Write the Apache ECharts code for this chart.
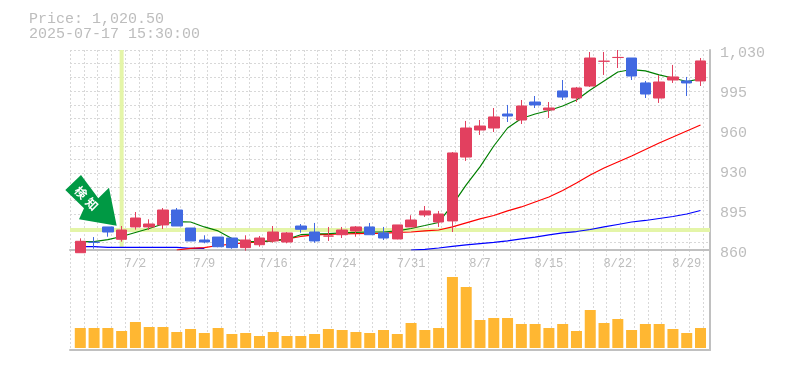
<!DOCTYPE html>
<html>
<head>
<meta charset="utf-8">
<style>html,body{margin:0;padding:0;background:#fff}#c{width:785px;height:370px}</style>
<script src="https://cdn.jsdelivr.net/npm/echarts@6/dist/echarts.min.js"></script>
</head>
<body>
<div id="c"></div>
<script>
const dates = ['6/26','6/27','6/30','7/1','7/2','7/3','7/4','7/7','7/8','7/9','7/10','7/11','7/14','7/15','7/16','7/17','7/18','7/22','7/23','7/24','7/25','7/28','7/29','7/30','7/31','8/1','8/4','8/5','8/6','8/7','8/8','8/12','8/13','8/14','8/15','8/18','8/19','8/20','8/21','8/22','8/25','8/26','8/27','8/28','8/29','9/1'];
// open, close, low, high
const ohlc = [
[857.7,867.4,857.7,869.9],[866.6,866.5,861.1,871],[879.6,875.3,871.3,879.6],[869.1,877,867.1,880.4],[879.6,887.2,877.3,892.3],
[879.6,882.1,877,886.1],[881.3,894,877.9,895.7],[894,880.4,880.4,895.7],[878.7,867.7,867.7,878.7],[868.5,866.8,865.7,872.5],
[871,862.8,862.3,871],[870.2,862,861.1,870.2],[862,868.5,859.4,872.5],[864.5,870.2,862.8,871.9],[867.7,875.3,866.2,880.4],
[866.8,874.5,865.7,875.3],[880.4,877.6,874.7,882.1],[875.3,867.7,866.2,883],[871.8,871.9,867.7,879.6],[873,877,870.2,879.6],
[876.2,879.6,871.3,880.4],[879.6,873,873,883],[874.5,870.2,868.5,879.6],[869.4,881.3,869.1,881.3],[879.6,885.5,879.6,889.5],
[889.8,893.2,888.1,897.4],[883.8,890.6,879.6,893.2],[884.7,942.5,875.3,943.3],[939,963.7,935.7,969.7],[962,965.4,957.8,970.5],
[963.7,973.1,960.3,980.7],[975.6,973.9,968.8,983.3],[970.5,982.4,967.1,987.5],[985.8,983.3,980.7,990.9],[979,980.7,972.2,985.8],
[995.2,990,987.5,1004.5],[989.2,997.7,985.8,998.6],[999.4,1023.2,998.6,1028.3],[1020.4,1020.5,1008.8,1028.3],[1023.6,1023.7,1014.7,1030],
[1023.2,1007.9,1004.5,1023.2],[1002,992.6,989.2,1003.7],[989.2,1002.8,985,1008.8],[1004.5,1007.1,1002,1017.3],[1003.7,1002,990.9,1007.1],
[1003.7,1020.7,999.4,1023.2]];
const maShort = [867.1,867.1,868.8,871.5,874.9,878.3,882.1,884.1,883.8,879.6,876.2,869.8,867.1,867.1,867.9,869.1,873,873.6,874,874.5,874.9,875.3,875.3,876.2,878.3,880.8,883.4,898.3,915.3,930.6,948.4,963.7,971.8,975.6,978.6,982.4,987.5,996,1003.7,1011.3,1013.4,1012.2,1008.8,1006.2,1003.2,1005.4];
const maMid = [null,null,null,null,null,null,null,860,861.3,862,863.8,865.1,866,866.8,867.7,869.4,871.5,872.8,873.2,873.6,874,874.2,874.2,874.9,875.3,876.2,877,879.6,883,886.4,889.3,893.2,896.6,900.8,905,910.6,917,923.8,929.7,934.8,939.9,945.4,951,956,961.2,966.3];
const maLong = [862.8,862.8,862.3,862.3,862.3,862.3,862.3,862.3,861.4,861.4,null,null,null,null,null,null,null,null,null,null,null,null,null,null,860,860.6,861.7,863,864.3,865.5,866.5,867.7,869.4,871,872.8,874.5,875.7,877.4,879.6,881.7,883.8,885.1,886.8,888.5,890.6,893.6];
const volumes = [20,20,20,17,26,21,21,16,19,15,20,14,15,12,16,12,12,14,19,18,16,15,18,14,25,18,20,71,61,28,30,30,24,24,20,24,17,38,25,29,18,24,24,19,15,20];
const priceTicks = {860:'860',894:'895',928:'930',962:'960',996:'995',1030:'1,030'};
const priceMin = 860, priceMax = 1030, priceStep = 34;
const highlightDate = '7/1', highlightPrice = 877;
const titleLines = ['Price: 1,020.50','2025-07-17 15:30:00'];
const markChars = ['検','知'];

const up = '#e2405f', down = '#4169e1', grey = '#c0c0c0', dot = '#d8d8d8', pale = '#e4f5a8';
const mono = '"Liberation Mono", monospace';
const dashed = {show:true, lineStyle:{color:dot, width:1, type:[2,2]}};
const off = {show:false};

const chart = echarts.init(document.getElementById('c'), null, {renderer:'canvas'});
chart.setOption({
  animation:false,
  backgroundColor:'#ffffff',
  title:{left:24, top:7, text:titleLines.join('\n'),
    textStyle:{fontFamily:mono, fontSize:15, lineHeight:15, fontWeight:'normal', color:'#bdbdbd'}},
  grid:[
    {left:70, top:50, width:640, height:300},
    {left:70, top:50, width:640, height:200},
    {left:73.4, top:50, width:634, height:200},
    {left:73.4, top:250, width:634, height:100}
  ],
  xAxis:[
    {type:'value', gridIndex:0, min:0, max:640, interval:13.76, splitLine:dashed,
      axisLine:{show:true, onZero:false, lineStyle:{color:grey, width:2}}, axisTick:off, axisLabel:off},
    {type:'value', gridIndex:1, min:0, max:640, splitLine:off,
      axisLine:{show:true, onZero:false, lineStyle:{color:grey, width:2}}, axisTick:off, axisLabel:off},
    {type:'category', gridIndex:2, data:dates, axisLine:off, axisTick:off, splitLine:off,
      axisLabel:{show:true, margin:8, color:'#bdbdbd', fontFamily:mono, fontSize:12, interval:(i)=>i%5===4, hideOverlap:false}},
    {type:'category', gridIndex:3, data:dates, axisLine:off, axisTick:off, axisLabel:off, splitLine:off}
  ],
  yAxis:[
    {type:'value', gridIndex:0, min:0, max:300, position:'right', splitLine:off, axisTick:off, axisLabel:off,
      axisLine:{show:true, onZero:false, lineStyle:{color:grey, width:2}}},
    {type:'value', gridIndex:1, min:0, max:200, inverse:true, interval:13.7, splitLine:dashed, axisLine:off, axisTick:off, axisLabel:off},
    {type:'value', gridIndex:1, min:priceMin, max:priceMax, interval:priceStep, position:'right', splitLine:off, axisLine:off, axisTick:off,
      axisLabel:{show:true, margin:10, color:'#bdbdbd', fontFamily:mono, fontSize:15, verticalAlign:'top', lineHeight:6, align:'left',
        formatter:(v)=>priceTicks[Math.round(v)]||''}},
    {type:'value', gridIndex:2, min:priceMin, max:priceMax, interval:priceStep, splitLine:off, axisLine:off, axisTick:off, axisLabel:off},
    {type:'value', gridIndex:3, min:-2, max:98, splitLine:off, axisLine:off, axisTick:off, axisLabel:off}
  ],
  graphic:[
    {type:'polygon', z:50, shape:{points:[[81,175],[65.3,190],[84,208.3],[79,219.3],[116.7,225.7],[109,187.7],[98.3,198.3]]},
      style:{fill:'#009944'}},
    {type:'text', z:51, x:81, y:192.5, rotation:-Math.PI/4,
      style:{text:markChars[0], fill:'#ffffff', font:'bold 12px "Noto Sans CJK JP"', align:'center', verticalAlign:'middle'}},
    {type:'text', z:51, x:92, y:204, rotation:-Math.PI/4,
      style:{text:markChars[1], fill:'#ffffff', font:'bold 12px "Noto Sans CJK JP"', align:'center', verticalAlign:'middle'}}
  ],
  series:[
    {name:'hl-h', type:'line', xAxisIndex:1, yAxisIndex:2, z:1, symbol:'none', silent:true,
      data:[[0,highlightPrice],[640,highlightPrice]], lineStyle:{color:pale, width:4}},
    {name:'hl-v', type:'line', xAxisIndex:2, yAxisIndex:3, z:1, symbol:'none', silent:true,
      data:[[highlightDate,priceMax],[highlightDate,priceMin+2]], lineStyle:{color:pale, width:4}},
    {name:'long', type:'line', xAxisIndex:2, yAxisIndex:3, z:2, symbol:'none', data:maLong, connectNulls:false, lineStyle:{color:'#0000ff', width:1.2}},
    {name:'mid', type:'line', xAxisIndex:2, yAxisIndex:3, z:2, symbol:'none', data:maMid, connectNulls:false, lineStyle:{color:'#ff0000', width:1.2}},
    {name:'short', type:'line', xAxisIndex:2, yAxisIndex:3, z:2, symbol:'none', data:maShort, lineStyle:{color:'#007f00', width:1.2}},
    {name:'price', type:'candlestick', xAxisIndex:2, yAxisIndex:3, z:3, clip:false, barWidth:11, data:ohlc,
      itemStyle:{color:up, color0:down, borderColor:up, borderColor0:down, borderWidth:1}},
    {name:'volume', type:'bar', xAxisIndex:3, yAxisIndex:4, z:3, barWidth:11, data:volumes, itemStyle:{color:'#ffb732'}}
  ]
});
</script>
</body>
</html>
